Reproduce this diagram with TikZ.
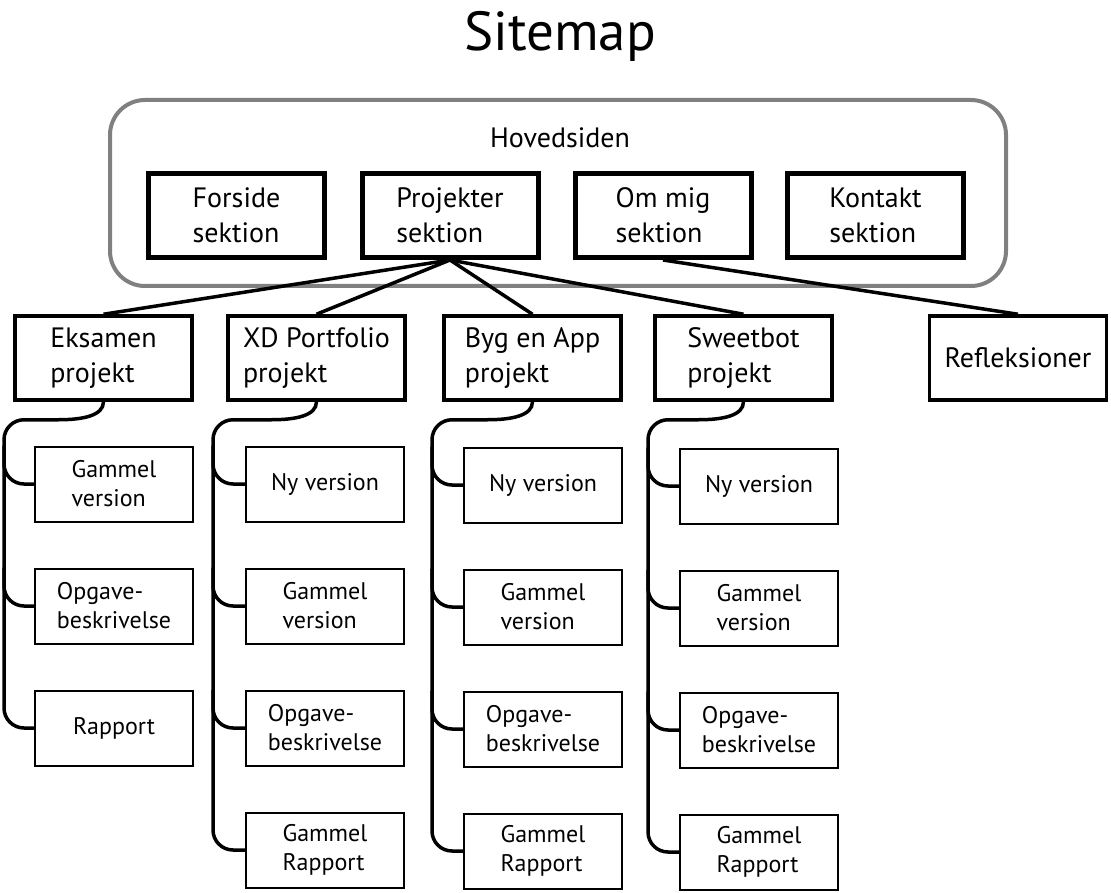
\documentclass[tikz,border=0pt]{standalone}
\usepackage{fontspec}
\setmainfont{PT Sans}
\usetikzlibrary{positioning}

\begin{document}
\begin{tikzpicture}[x=1pt, y=-1pt, node distance=45pt,
    frame/.style={draw=black!50, line width=4pt, rounded corners=35pt, minimum width=896pt, minimum height=186pt},
    section_box/.style={draw, line width=5pt, minimum width=176pt, minimum height=84pt, align=left, font=\fontsize{28}{35}\selectfont},
    proj_box/.style={draw, line width=3.5pt, minimum width=177pt, minimum height=84pt, align=left, font=\fontsize{28}{35}\selectfont},
    page_box/.style={draw, line width=2pt, minimum width=158pt, minimum height=75pt, align=left, font=\fontsize{24}{29}\selectfont},
    link/.style={line width=3.5pt},
    branch/.style={line width=3.5pt, rounded corners=20pt}]
    \useasboundingbox (0,0) rectangle (1111,893);

    % Title
    \node [font=\fontsize{55}{60}\selectfont] (title) at (560,36) {Sitemap};

    % Hovedsiden
    \node [frame] (hoved) at (558,193) {};
    \node [font=\fontsize{28}{35}\selectfont] (hoved_lbl) at (560,138) {Hovedsiden};

    % Sections
    \node [section_box] (forside) at (236.5,215.5) {Forside\\sektion};
    \node [section_box] (proj) at (450,215.5) {Projekter\\sektion};
    \node [section_box] (om_mig) at (663,215.5) {Om mig\\sektion};
    \node [section_box] (kontakt) at (875.5,215.5) {Kontakt\\sektion};

    % Projects
    \node [proj_box] (eks) at (103.5,358) {Eksamen\\projekt};
    \node [proj_box] (xd) at (316.5,358) {XD Portfolio\\projekt};
    \node [proj_box] (byg) at (532.5,358) {Byg en App\\projekt};
    \node [proj_box] (sweet) at (743.5,358) {Sweetbot\\projekt};
    \node [proj_box] (refl) at (1018,358) {Refleksioner};

    \draw [link] (proj.south) -- (eks.north);
    \draw [link] (proj.south) -- (xd.north);
    \draw [link] (proj.south) -- (byg.north);
    \draw [link] (proj.south) -- (sweet.north);
    \draw [link] (om_mig.south) -- (refl.north);

    % Eksamen pages
    \node [page_box] (eks_old) at (114,484) {Gammel\\version};
    \node [page_box, below=of eks_old] (eks_task) {Opgave-\\beskrivelse};
    \node [page_box, below=of eks_task] (eks_rep) {Rapport};

    % XD Portfolio pages
    \node [page_box] (xd_new) at (325,484) {Ny version};
    \node [page_box, below=of xd_new] (xd_old) {Gammel\\version};
    \node [page_box, below=of xd_old] (xd_task) {Opgave-\\beskrivelse};
    \node [page_box, below=of xd_task] (xd_rep) {Gammel\\Rapport};

    % Byg en App pages
    \node [page_box] (byg_new) at (543,485) {Ny version};
    \node [page_box, below=of byg_new] (byg_old) {Gammel\\version};
    \node [page_box, below=of byg_old] (byg_task) {Opgave-\\beskrivelse};
    \node [page_box, below=of byg_task] (byg_rep) {Gammel\\Rapport};

    % Sweetbot pages
    \node [page_box] (sweet_new) at (759,486) {Ny version};
    \node [page_box, below=of sweet_new] (sweet_old) {Gammel\\version};
    \node [page_box, below=of sweet_old] (sweet_task) {Opgave-\\beskrivelse};
    \node [page_box, below=of sweet_task] (sweet_rep) {Gammel\\Rapport};

    % Brackets
    \coordinate (eks_bar) at (4,420);
    \coordinate (xd_bar) at (213,420);
    \coordinate (byg_bar) at (432,420);
    \coordinate (sweet_bar) at (648,420);

    \draw [link] (eks.south) .. controls +(0,14) and +(24,0) .. ++(-45,18) [rounded corners=20pt] -| (eks_rep.west -| eks_bar) -- (eks_rep.west);
    \draw [branch] (eks_bar |- eks_old.north) |- (eks_old.west);
    \draw [branch] (eks_bar |- eks_task.north) |- (eks_task.west);

    \draw [link] (xd.south) .. controls +(0,14) and +(24,0) .. ++(-45,18) [rounded corners=20pt] -| (xd_rep.west -| xd_bar) -- (xd_rep.west);
    \draw [branch] (xd_bar |- xd_new.north) |- (xd_new.west);
    \draw [branch] (xd_bar |- xd_old.north) |- (xd_old.west);
    \draw [branch] (xd_bar |- xd_task.north) |- (xd_task.west);

    \draw [link] (byg.south) .. controls +(0,14) and +(24,0) .. ++(-45,18) [rounded corners=20pt] -| (byg_rep.west -| byg_bar) -- (byg_rep.west);
    \draw [branch] (byg_bar |- byg_new.north) |- (byg_new.west);
    \draw [branch] (byg_bar |- byg_old.north) |- (byg_old.west);
    \draw [branch] (byg_bar |- byg_task.north) |- (byg_task.west);

    \draw [link] (sweet.south) .. controls +(0,14) and +(24,0) .. ++(-45,18) [rounded corners=20pt] -| (sweet_rep.west -| sweet_bar) -- (sweet_rep.west);
    \draw [branch] (sweet_bar |- sweet_new.north) |- (sweet_new.west);
    \draw [branch] (sweet_bar |- sweet_old.north) |- (sweet_old.west);
    \draw [branch] (sweet_bar |- sweet_task.north) |- (sweet_task.west);
\end{tikzpicture}
\end{document}
